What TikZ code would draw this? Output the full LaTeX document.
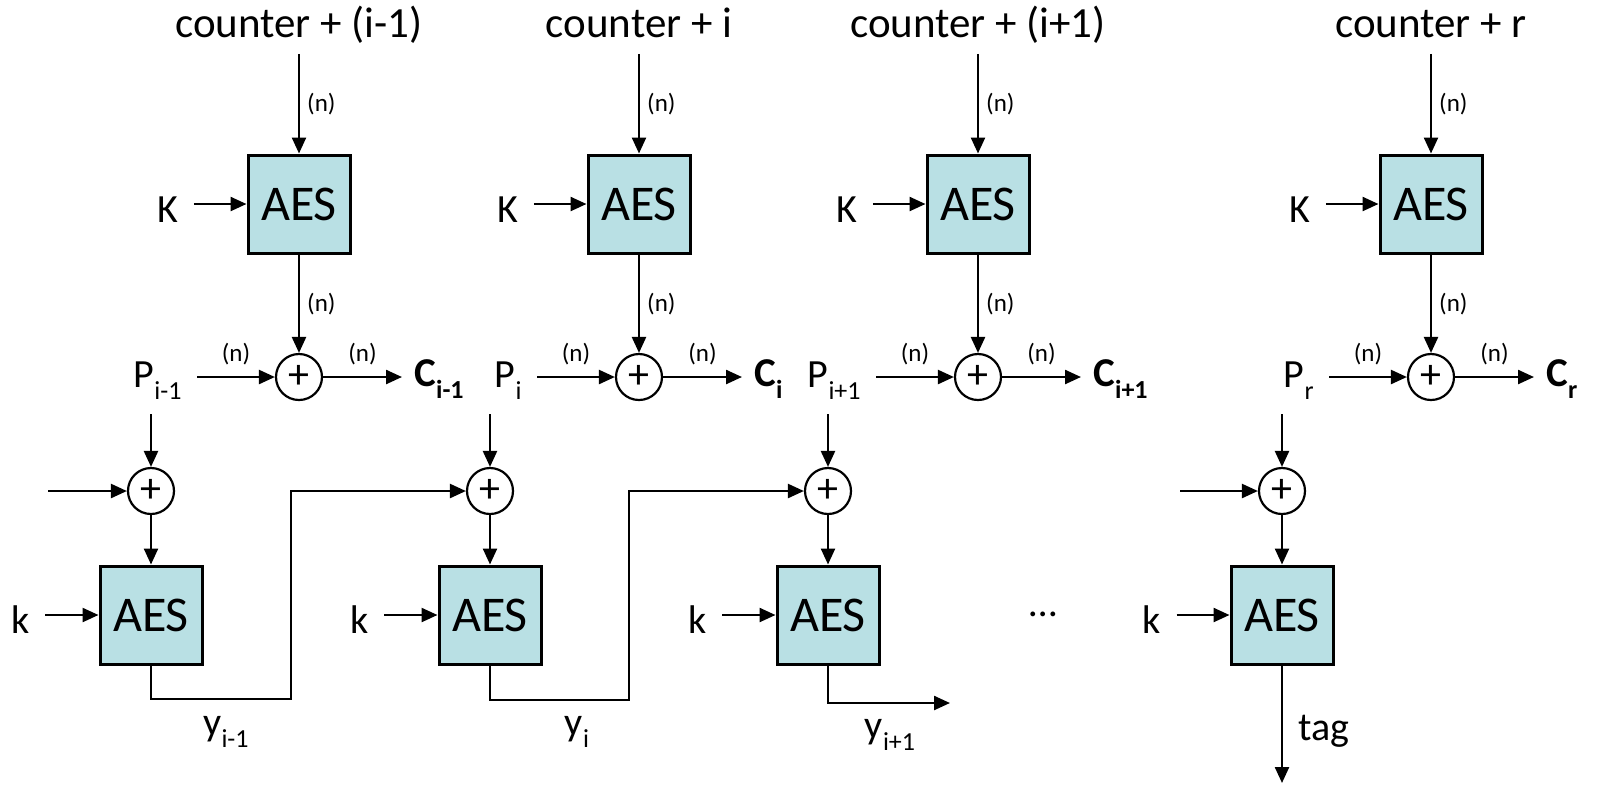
\documentclass[tikz,border=0pt]{standalone}
\usepackage{fontspec}
\setmainfont{Carlito}
\usetikzlibrary{arrows.meta,calc}
\definecolor{aesfill}{HTML}{B9E0E4}
\tikzset{
  aes/.style={draw, line width=1.5pt, fill=aesfill, minimum width=51pt, minimum height=49pt, inner sep=0pt, font=\fontsize{25}{30}\selectfont},
  xor/.style={circle, draw, line width=1.1pt, minimum size=23pt, inner sep=0pt, font=\fontsize{21}{21}\selectfont},
  lbl/.style={inner xsep=7.5pt, inner ysep=7pt, font=\fontsize{20}{24}\selectfont},
  plbl/.style={lbl, anchor=east},
  clbl/.style={lbl, anchor=west, inner xsep=6pt, font=\fontsize{20.5}{24}\selectfont\bfseries},
  ctr/.style={inner sep=6pt, text height=0.72em, text depth=0.22em, font=\fontsize{21.5}{26}\selectfont},
  nlbl/.style={inner sep=3.5pt, font=\fontsize{12.5}{14}\selectfont},
  arr/.style={-{Triangle[length=8pt, width=7pt]}, line width=1.2pt},
}
\newcommand{\subs}[1]{\raisebox{-6pt}{\fontsize{13}{15}\selectfont #1}}
% counter-mode column: id, x, counter offset, P index, C index
\newcommand{\ctrcol}[5]{%
  \node[ctr] (ctr#1) at (#2,32) {counter + #3};
  \node[aes] (E#1) at (#2,204) {AES};
  \node[lbl] (K#1) at ({#2-131},210) {K};
  \node[xor] (X#1) at (#2,377) {+};
  \node[plbl] (P#1) at ({#2-102},381) {P\subs{#4}};
  \node[clbl] (C#1) at ({#2+103},379) {C\subs{#5}};
  \draw[arr] (ctr#1) -- node[nlbl, right] {(n)} (E#1);
  \draw[arr] (K#1.east |- E#1) -- (E#1);
  \draw[arr] (E#1) -- node[nlbl, right] {(n)} (X#1);
  \draw[arr] (X#1 -| P#1.east) -- node[nlbl, above=2pt] {(n)} (X#1);
  \draw[arr] (X#1) -- node[nlbl, above=2pt] {(n)} (X#1 -| C#1.west);}
% CBC-MAC column: id, x
\newcommand{\maccol}[2]{%
  \node[xor] (L#1) at (#2,491) {+};
  \node[aes] (B#1) at (#2,615) {AES};
  \node[lbl] (k#1) at ({#2-130},620) {k};
  \draw[arr] (P#1.south -| L#1) -- (L#1);
  \draw[arr] (L#1) -- (B#1);
  \draw[arr] (k#1.east |- B#1) -- (B#1);}

\begin{document}
\begin{tikzpicture}[x=0.5pt, y=-0.5pt]
  \useasboundingbox (0,0) rectangle (1597,784);
  \ctrcol{1}{299}{(i-1)}{i-1}{i-1}
  \ctrcol{2}{639}{i}{i}{i}
  \ctrcol{3}{978}{(i+1)}{i+1}{i+1}
  \ctrcol{4}{1431}{r}{r}{r}
  \maccol{1}{151}
  \maccol{2}{490}
  \maccol{3}{828}
  \maccol{4}{1282}
  % chaining values
  \coordinate (in1) at (48,491);
  \coordinate (in4) at (1180,491);
  \coordinate (Y1) at (291,699);
  \coordinate (Y2) at (629,700);
  \coordinate (Y3) at (950,703);
  \coordinate (T4) at (1282,783);
  \draw[arr] (in1) -- (L1);
  \draw[arr] (in4) -- (L4);
  \draw[arr] (B1) |- (Y1) |- (L2);
  \draw[arr] (B2) |- (Y2) |- (L3);
  \draw[arr] (B3) |- (Y3);
  \draw[arr] (B4) -- (T4);
  \node[lbl] (y1) at (226,732) {y\subs{i-1}};
  \node[lbl] (y2) at (577,732) {y\subs{i}};
  \node[lbl] (y3) at (890,735) {y\subs{i+1}};
  \node[lbl] (tag) at (1324,731) {tag};
  \node[lbl] (dots) at (1043,614) {\ldots};
\end{tikzpicture}
\end{document}
